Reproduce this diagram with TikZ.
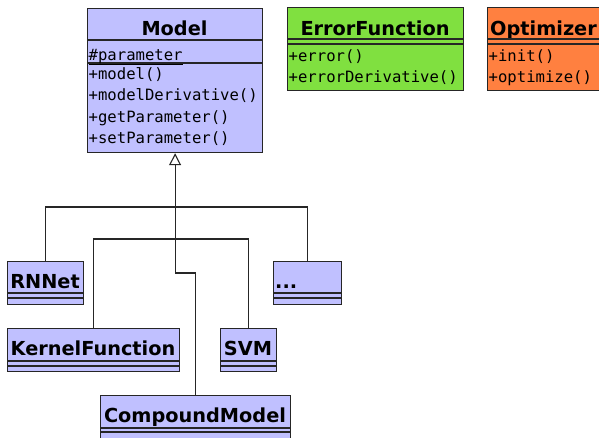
\documentclass[tikz,border=0pt]{standalone}
\usepackage{fontspec}
\setmainfont{DejaVu Sans}
\newfontfamily\monof{DejaVu Sans Mono}
\usetikzlibrary{arrows.meta}
\definecolor{clsblue}{RGB}{192,192,255}
\definecolor{clsgreen}{RGB}{128,224,64}
\definecolor{clsorange}{RGB}{255,128,64}
\tikzset{
  box/.style={draw=black!85, line width=1.2pt, inner sep=0pt, anchor=north west},
  sep/.style={draw=black!85, line width=1.2pt},
  title/.style={inner sep=0pt, anchor=base, font=\bfseries\fontsize{19.3}{19.3}\selectfont},
  meth/.style={inner sep=0pt, anchor=base west, font=\monof\fontsize{15.6}{15.6}\selectfont},
  link/.style={draw=black!85, line width=1.1pt},
  gen/.style={link, -{Triangle[open, length=12pt, width=12pt]}},
}
\begin{document}
\begin{tikzpicture}[x=1pt,y=-1pt]
\useasboundingbox[fill=white] (0,0) rectangle (599,437);
% Model
\node[box, fill=clsblue, minimum width=175pt, minimum height=144pt] (model) at (87,8) {};
\node[title] (modelt) at (174.5,35) {Model};
\draw[sep] (87,40) -- (262,40);
\draw[sep] (87,63) -- (262,63);
\node[meth] (m0) at (88.5,60) {\underline{\#parameter}};
\node[meth] (m1) at (88.5,79) {+model()};
\node[meth] (m2) at (88.5,100.5) {+modelDerivative()};
\node[meth] (m3) at (88.5,122) {+getParameter()};
\node[meth] (m4) at (88.5,143) {+setParameter()};
% ErrorFunction
\node[box, fill=clsgreen, minimum width=176pt, minimum height=83pt] (err) at (287,7) {};
\node[title] (errt) at (375,35) {ErrorFunction};
\draw[sep] (287,39) -- (463,39);
\draw[sep] (287,44) -- (463,44);
\node[meth] (e1) at (288.5,61) {+error()};
\node[meth] (e2) at (288.5,82) {+errorDerivative()};
% Optimizer
\node[box, fill=clsorange, minimum width=140pt, minimum height=83pt] (opt) at (487,7) {};
\node[title, anchor=base west] (optt) at (490,35) {Optimizer};
\draw[sep] (487,39) -- (627,39);
\draw[sep] (487,44) -- (627,44);
\node[meth] (o1) at (488.5,61) {+init()};
\node[meth] (o2) at (488.5,82) {+optimize()};
% RNNet
\node[box, fill=clsblue, minimum width=76pt, minimum height=43pt] (rnnet) at (7,261) {};
\node[title] (rnnett) at (45,288) {RNNet};
\draw[sep] (7,293) -- (83,293);
\draw[sep] (7,298) -- (83,298);
% ...
\node[box, fill=clsblue, minimum width=68pt, minimum height=43pt] (dots) at (273,261) {};
\node[title, anchor=base west] (dotst) at (275,288) {...};
\draw[sep] (273,293) -- (341,293);
\draw[sep] (273,298) -- (341,298);
% KernelFunction
\node[box, fill=clsblue, minimum width=172pt, minimum height=43pt] (kernel) at (7,328) {};
\node[title] (kernelt) at (93,355) {KernelFunction};
\draw[sep] (7,361) -- (179,361);
\draw[sep] (7,366) -- (179,366);
% SVM
\node[box, fill=clsblue, minimum width=56pt, minimum height=43pt] (svm) at (220,328) {};
\node[title] (svmt) at (248,355) {SVM};
\draw[sep] (220,361) -- (276,361);
\draw[sep] (220,366) -- (276,366);
% CompoundModel
\node[box, fill=clsblue, minimum width=190pt, minimum height=60pt] (comp) at (100,395) {};
\node[title] (compt) at (195,422) {CompoundModel};
\draw[sep] (100,428) -- (290,428);
\draw[sep] (100,432) -- (290,432);
% connectors
\coordinate (bus1) at (174,207);
\coordinate (bus2) at (174,239);
\draw[link] (rnnet.north) |- (bus1) -| (dots.north);
\draw[link] (kernel.north) |- (bus2) -| (svm.north);
\draw[gen] (comp.north) -- ++(0,-122) -| (model.south);
\end{tikzpicture}
\end{document}
